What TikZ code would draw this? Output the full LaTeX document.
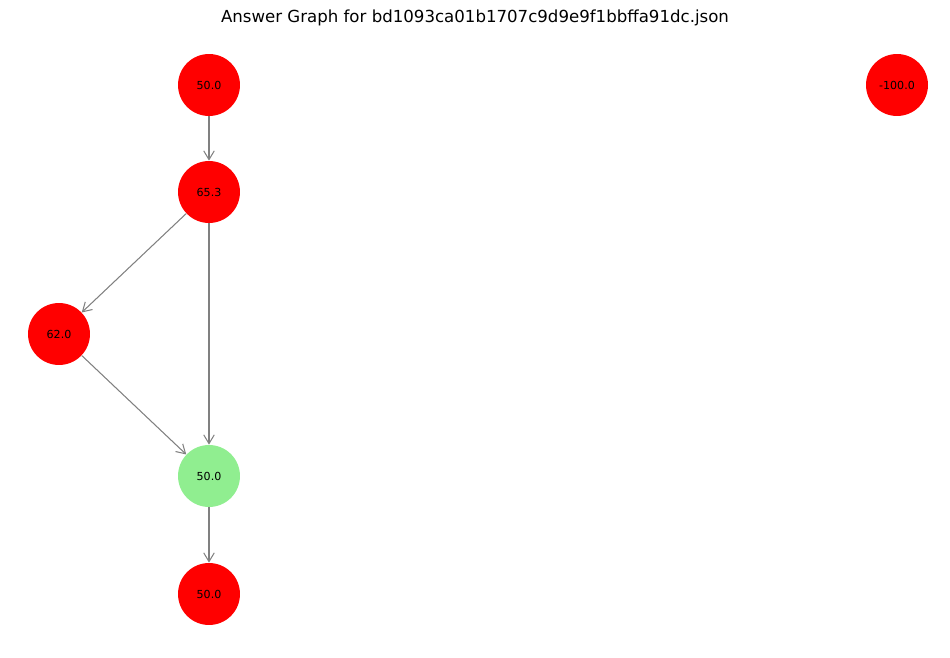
\documentclass[tikz,border=0pt]{standalone}
\usepackage{fontspec}
\setmainfont{DejaVu Sans}
\usetikzlibrary{arrows.meta}
\definecolor{lightgreen}{HTML}{90EE90}
\tikzset{
  vert/.style={circle, minimum size=1.24cm, inner sep=0pt, fill=red, font=\fontsize{6.3}{7}\selectfont},
  edge/.style={draw=gray, line width=0.6pt, -{Straight Barb[length=5pt,width=6pt]}}
}
\begin{document}
\begin{tikzpicture}[x=0.02cm,y=-0.02cm]
\useasboundingbox (0,0) rectangle (950,658);
\node[font=\fontsize{9.45}{11}\selectfont] (title) at (475,18) {Answer Graph for bd1093ca01b1707c9d9e9f1bbffa91dc.json};
\node[vert] (a) at (209,85) {50.0};
\node[vert] (b) at (209,192) {65.3};
\node[vert] (c) at (59,334) {62.0};
\node[vert, fill=lightgreen] (d) at (209,476) {50.0};
\node[vert] (e) at (209,594) {50.0};
\node[vert] (f) at (897,85) {-100.0};
\draw[edge] (a) -- (b);
\draw[edge] (b) -- (c);
\draw[edge] (b) -- (d);
\draw[edge] (c) -- (d);
\draw[edge] (d) -- (e);
\end{tikzpicture}
\end{document}
